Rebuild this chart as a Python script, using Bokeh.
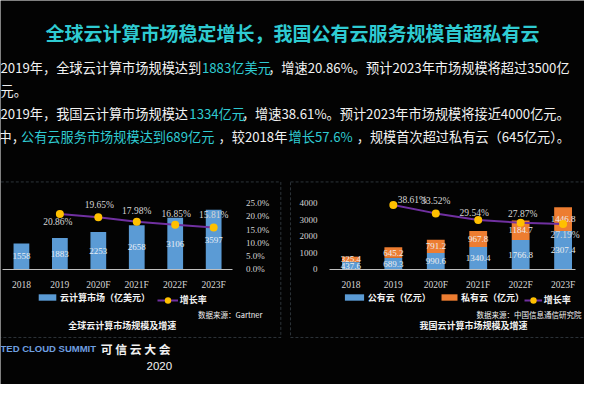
from bokeh.plotting import figure
from bokeh.models import (Range1d, LinearAxis, FixedTicker, PrintfTickFormatter,
                          ColumnDataSource, Legend, LegendItem, BoxAnnotation)
from bokeh.core.properties import value
from bokeh.embed import file_html
from bokeh.resources import INLINE

# ---------------- data ----------------
global_years = ["2018", "2019", "2020F", "2021F", "2022F", "2023F"]
global_market = [1558, 1883, 2253, 2658, 3106, 3597]          # 亿美元
global_growth_years = ["2019", "2020F", "2021F", "2022F", "2023F"]
global_growth = [20.86, 19.65, 17.98, 16.85, 15.81]            # %
global_pct_ticks = [0, 5, 10, 15, 20, 25]

china_years = ["2018", "2019", "2020F", "2021F", "2022F", "2023F"]
china_public = [437.6, 689.3, 990.6, 1340.4, 1766.8, 2307.4]   # 亿元
china_private = [325.4, 645.2, 791.2, 967.8, 1184.7, 1446.8]   # 亿元
china_growth_years = ["2019", "2020F", "2021F", "2022F", "2023F"]
china_growth = [38.61, 33.52, 29.54, 27.87, 27.19]             # %
china_value_ticks = [0, 1000, 2000, 3000, 4000]

# ---------------- styling ----------------
W, H = 584, 384
REF_W, REF_H = 600, 400
SX, SY = W / REF_W, H / REF_H
BG = "#030303"
CYAN = "#2fcbd2"
WHITE = "#f2f2f2"
BLUE = "#5b9bd5"
ORANGE = "#ed7d31"
PURPLE = "#7030a0"
YELLOW = "#ffc000"
AXIS_TXT = "#d6d6d6"
DASH = "#8fa6ba"
CJK = "Noto Sans CJK SC"
SERIF = "Liberation Serif"


def xr(v0, p0, v1, p1):
    k = (v1 - v0) / (p1 - p0)
    return Range1d(start=v0 - p0 * k, end=v0 + (REF_W - p0) * k)


def yr(v0, p0, v1, p1):
    k = (v1 - v0) / (p1 - p0)
    return Range1d(start=v0 + (REF_H - p0) * k, end=v0 - p0 * k)


p = figure(width=W, height=H, x_range=Range1d(0, REF_W), y_range=Range1d(REF_H, 0),
           output_backend="svg", toolbar_location=None,
           x_axis_location=None, y_axis_location=None, min_border=0,
           background_fill_color=BG, border_fill_color=BG, outline_line_color=None)
p.grid.grid_line_color = None

# layout ranges for the two charts (reference pixel anchors)
LX0, LXS = 21.5, 39.5
RX0, RXS = 360.0, 43.6
p.extra_x_ranges = {
    "lx": xr(0, LX0, 1, LX0 + LXS),
    "rx": xr(0, RX0, 1, RX0 + RXS),
}
p.extra_y_ranges = {
    "ly": yr(0, 280, 4000, 211),
    "lp": yr(0, 280, 25, 211),
    "ry": yr(0, 280, 4000, 211),
    "rp": yr(0, 280, 40, 210.5),
}

# dashed frames
for l, r in ((-10, 288), (298, 610)):
    p.add_layout(BoxAnnotation(left=l, right=r, top=189, bottom=351,
                               fill_color=None, line_color=DASH,
                               line_dash="3 2", line_width=1))


def style_axis(ax, size):
    ax.major_tick_line_color = None
    ax.minor_tick_line_color = None
    ax.major_label_text_color = AXIS_TXT
    ax.major_label_text_font = SERIF
    ax.major_label_text_font_size = size


def add_text(x, y, s, size, color=WHITE, bold=False, align="left", font=CJK):
    p.text(x=[x], y=[y], text=[s], text_font=value(font), text_font_size=size,
           text_color=color, text_align=align, text_baseline="middle",
           text_font_style="bold" if bold else "normal")


# ---------------- left chart: global market ----------------
gx = list(range(len(global_years)))
src_g = ColumnDataSource(dict(x=gx, v=global_market,
                              mid=[v / 2 for v in global_market],
                              lab=[str(v) for v in global_market]))
bars_g = p.vbar(x="x", top="v", width=0.41, source=src_g, x_range_name="lx",
                y_range_name="ly", fill_color=BLUE, line_color=None)
p.text(x="x", y="mid", text="lab", source=src_g, x_range_name="lx", y_range_name="ly",
       text_align="center", text_baseline="middle", text_font=value(SERIF),
       text_font_size="9px", text_color="#e8eef6")

ggx = [global_years.index(y) for y in global_growth_years]
src_gg = ColumnDataSource(dict(x=ggx, v=global_growth,
                               lab=[f"{v:.2f}%" for v in global_growth],
                               dx=[-2, 1, 0, 1, 0], dy=[8, -12, -11, -11, -12]))
gl = p.line(x="x", y="v", source=src_gg, x_range_name="lx", y_range_name="lp",
            line_color=PURPLE, line_width=2)
gs = p.scatter(x="x", y="v", source=src_gg, x_range_name="lx", y_range_name="lp",
               size=8, fill_color=YELLOW, line_color=None)
p.text(x="x", y="v", text="lab", source=src_gg, x_range_name="lx", y_range_name="lp",
       x_offset="dx", y_offset="dy", text_align="center", text_baseline="middle",
       text_font=value(SERIF), text_font_size="9.5px", text_color=AXIS_TXT)

ax_gx = LinearAxis(x_range_name="lx", y_range_name="ly", fixed_location=0,
                   ticker=FixedTicker(ticks=gx),
                   major_label_overrides={i: s for i, s in enumerate(global_years)},
                   bounds=(-0.5, len(gx) - 0.5), axis_line_color="#bfbfbf",
                   major_label_standoff=5)
style_axis(ax_gx, "9.5px")
p.add_layout(ax_gx, "below")

ax_gp = LinearAxis(x_range_name="lx", y_range_name="lp",
                   fixed_location=(243 - LX0) / LXS,
                   ticker=FixedTicker(ticks=global_pct_ticks),
                   formatter=PrintfTickFormatter(format="%.1f%%"),
                   axis_line_color=None, major_label_standoff=3)
style_axis(ax_gp, "9px")
p.add_layout(ax_gp, "right")

# ---------------- right chart: China market ----------------
cx = list(range(len(china_years)))
tot = [a + b for a, b in zip(china_public, china_private)]
src_c = ColumnDataSource(dict(x=cx, pub=china_public, tot=tot,
                              pub_mid=[a / 2 for a in china_public],
                              pri_mid=[a + b / 2 for a, b in zip(china_public, china_private)],
                              pub_lab=[f"{a:.1f}" for a in china_public],
                              pri_lab=[f"{b:.1f}" for b in china_private]))
bars_pub = p.vbar(x="x", bottom=0, top="pub", width=0.42, source=src_c, x_range_name="rx",
                  y_range_name="ry", fill_color=BLUE, line_color=None)
bars_pri = p.vbar(x="x", bottom="pub", top="tot", width=0.42, source=src_c, x_range_name="rx",
                  y_range_name="ry", fill_color=ORANGE, line_color=None)
for ycol, tcol in (("pub_mid", "pub_lab"), ("pri_mid", "pri_lab")):
    p.text(x="x", y=ycol, text=tcol, source=src_c, x_range_name="rx", y_range_name="ry",
           text_align="center", text_baseline="middle", text_font=value(SERIF),
           text_font_size="9px", text_color="#eeeeee")

cgx = [china_years.index(y) for y in china_growth_years]
src_cg = ColumnDataSource(dict(x=cgx, v=china_growth,
                               lab=[f"{v:.2f}%" for v in china_growth],
                               dx=[19, 0, -4, 2, 2], dy=[-5, -12, -7, -9, 11]))
cl = p.line(x="x", y="v", source=src_cg, x_range_name="rx", y_range_name="rp",
            line_color=PURPLE, line_width=2)
cs = p.scatter(x="x", y="v", source=src_cg, x_range_name="rx", y_range_name="rp",
               size=8, fill_color=YELLOW, line_color=None)
p.text(x="x", y="v", text="lab", source=src_cg, x_range_name="rx", y_range_name="rp",
       x_offset="dx", y_offset="dy", text_align="center", text_baseline="middle",
       text_font=value(SERIF), text_font_size="9.5px", text_color=AXIS_TXT)

ax_cx = LinearAxis(x_range_name="rx", y_range_name="ry", fixed_location=0,
                   ticker=FixedTicker(ticks=cx),
                   major_label_overrides={i: s for i, s in enumerate(china_years)},
                   bounds=(-0.5, len(cx) - 0.7), axis_line_color="#bfbfbf",
                   major_label_standoff=5)
style_axis(ax_cx, "9.5px")
p.add_layout(ax_cx, "below")

ax_cy = LinearAxis(x_range_name="rx", y_range_name="ry",
                   fixed_location=(335 - RX0) / RXS,
                   ticker=FixedTicker(ticks=china_value_ticks),
                   formatter=PrintfTickFormatter(format="%d"),
                   axis_line_color=None, major_label_standoff=3)
style_axis(ax_cy, "9px")
p.add_layout(ax_cy, "left")

# ---------------- legends ----------------
def add_legend(items, x_ref, y_ref, gw, gh, lh):
    leg = Legend(items=items, location=(x_ref * SX, (REF_H - y_ref) * SY - lh / 2),
                 orientation="horizontal", glyph_width=gw, glyph_height=gh,
                 label_standoff=2, padding=0, margin=0, spacing=0,
                 label_height=lh, label_width=10,
                 border_line_color=None, background_fill_alpha=0,
                 label_text_color=WHITE, label_text_font=CJK,
                 label_text_font_size="9px", label_text_font_style="bold")
    p.add_layout(leg)


add_legend([LegendItem(label="云计算市场（亿美元）", renderers=[bars_g])], 37, 312, 22, 8, 8)
add_legend([LegendItem(label="增长率", renderers=[gl, gs])], 161, 312, 21, 16, 16)
add_legend([LegendItem(label="公有云（亿元）", renderers=[bars_pub])], 351, 312, 24, 8, 8)
add_legend([LegendItem(label="私有云（亿元）", renderers=[bars_pri])], 451, 312, 20, 8, 8)
add_legend([LegendItem(label="增长率", renderers=[cl, cs])], 538, 312, 18, 16, 16)

# ---------------- slide texts ----------------
add_text(300, 33, "全球云计算市场稳定增长，我国公有云服务规模首超私有云", "19px", CYAN,
         bold=True, align="center")

lines = [
    (70, [(0, "2019年，全球云计算市场规模达到", WHITE), (207, "1883亿美元", CYAN),
          (275, "，增速20.86%。预计2023年市场规模将超过3500亿", WHITE)]),
    (94, [(0, "元。", WHITE)]),
    (118, [(0, "2019年，我国云计算市场规模达", WHITE), (194, "1334亿元", CYAN),
           (248, "，增速38.61%。预计2023年市场规模将接近4000亿元。", WHITE)]),
    (142, [(-2, "中，", WHITE), (21, "公有云服务市场规模达到689亿元", CYAN),
           (224, "，较2018年", WHITE), (296, "增长57.6%", CYAN),
           (366, "，规模首次超过私有云（645亿元）。", WHITE)]),
]
for y, segs in lines:
    for x, s, c in segs:
        add_text(x, y, s, "13.2px", c)

add_text(203, 327, "数据来源：Gartner", "7.5px", WHITE)
add_text(125, 339, "全球云计算市场规模及增速", "9px", WHITE, bold=True, align="center")
add_text(597, 327, "数据来源：中国信息通信研究院", "7.5px", WHITE, align="right")
add_text(486, 339, "我国云计算市场规模及增速", "9px", WHITE, bold=True, align="center")

add_text(0, 363, "TED CLOUD SUMMIT", "9.5px", "#6f9fe0", bold=True, font="Liberation Sans")
add_text(103, 363, "可 信 云 大 会", "11.8px", WHITE, bold=True)
add_text(150, 381, "2020", "11.5px", WHITE, font="Liberation Sans")

open("out.html", "w").write(file_html(p, INLINE))
